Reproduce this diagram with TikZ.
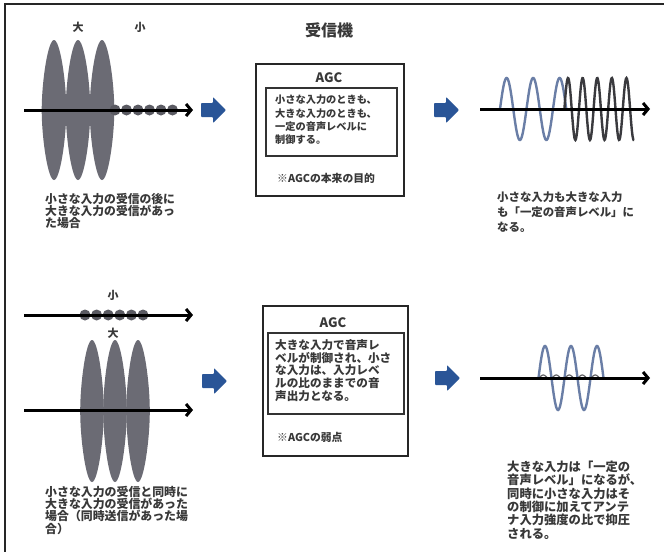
\documentclass[tikz,border=0pt]{standalone}
\usepackage{fontspec}
\setmainfont{Noto Sans CJK JP}
\usetikzlibrary{arrows.meta}
\definecolor{txt}{HTML}{383838}
\definecolor{lobe}{HTML}{6B6B74}
\definecolor{dotc}{HTML}{5A5A62}
\definecolor{navy}{HTML}{2A5597}
\definecolor{bluegray}{HTML}{6A7EA6}
\definecolor{darkwave}{HTML}{3A3A3E}
\begin{document}
\begin{tikzpicture}[x=1pt,y=-1pt,
  axisarrow/.style={line width=3pt,black,-{Straight Barb[length=5pt,width=12pt]}},
  dotshape/.style={fill=dotc},
  outerbox/.style={draw=black!85,line width=2pt,fill=none},
  innerbox/.style={draw=black!80,line width=1.5pt,fill=none},
  labeltext/.style={inner sep=0pt,text=txt},
  bodytext/.style={anchor=north west,inner sep=0pt,align=left,text=txt},
  wavebg/.style={line width=2.4pt,bluegray},
  wavedk/.style={line width=2.4pt,darkwave},
  blockarrow/.pic={\fill[navy,rounded corners=0.8pt] (-12,-7) -- (0,-7) -- (0,-13) -- (13,0) -- (0,13) -- (0,7) -- (-12,7) -- cycle;},
  lobe/.pic={\fill[lobe] (0,-1) .. controls (0.5,-1) and (1,-0.4) .. (1,0) .. controls (1,0.4) and (0.5,1) .. (0,1) .. controls (-0.5,1) and (-1,0.4) .. (-1,0) .. controls (-1,-0.4) and (-0.5,-1) .. cycle;}
]
\useasboundingbox (0,0) rectangle (664,552);
\fill[white] (0,0) rectangle (664,552);
% frame
\draw[line width=1.8pt,black!85] (664,4) -- (5,4) -- (5,552);

% ---------------- top row ----------------
\node[labeltext,font=\bfseries\fontsize{11}{11}\selectfont] (big1) at (78,27) {大};
\node[labeltext,font=\bfseries\fontsize{11}{11}\selectfont] (small1) at (140,27) {小};
\foreach \cx in {54,78,102} \pic[xscale=12.3,yscale=70] at (\cx,110) {lobe};
\foreach \dx in {115,126.5,138,149.5,161,172.5} \fill[dotshape] (\dx,110) circle [radius=5.5pt];
\coordinate (a1s) at (24,110);
\coordinate (a1e) at (193,110);
\draw[axisarrow] (a1s) -- (a1e);
\pic at (213,110) {blockarrow};
\node[bodytext,font=\bfseries\fontsize{11.8}{12.3}\selectfont] (cap1) at (45,193)
  {小さな入力の受信の後に\\大きな入力の受信があっ\\た場合};

\node[labeltext,font=\bfseries\fontsize{16}{16}\selectfont] (title) at (329,30) {受信機};
\node[outerbox,minimum width=148pt,minimum height=132pt,anchor=north west,inner sep=0pt] (box1) at (255,63) {};
\node[labeltext,font=\bfseries\fontsize{13}{13}\selectfont] (agc1) at (329,78) {AGC};
\node[innerbox,minimum width=131pt,minimum height=68pt,anchor=north west,inner sep=0pt] (in1) at (265,87) {};
\node[bodytext,font=\bfseries\fontsize{10.2}{13.3}\selectfont] (t1) at (275,94.9)
  {小さな入力のときも、\\大きな入力のときも、\\一定の音声レベルに\\制御する。};
\node[labeltext,anchor=west,font=\bfseries\fontsize{10.8}{11}\selectfont] (note1) at (277,178) {※AGCの本来の目的};

\pic at (446,110) {blockarrow};
\draw[wavebg] plot[domain=500:566.25,samples=120,smooth] (\x,{109-31*sin((\x-500)*13.585)});
\draw[wavedk] plot[domain=564.4:634,samples=140,smooth] (\x,{109-31*sin((\x-564.4)*24.658)});
\coordinate (r1s) at (480,109);
\coordinate (r1e) at (650,109);
\draw[axisarrow] (r1s) -- (r1e);
\node[bodytext,font=\bfseries\fontsize{11.4}{15}\selectfont] (cap2) at (497,191.3)
  {小さな入力も大きな入力\\も「一定の音声レベル」に\\なる。};

% ---------------- bottom row ----------------
\node[labeltext,font=\bfseries\fontsize{11}{11}\selectfont] (small2) at (113,295) {小};
\foreach \dx in {85,96.6,108.2,119.8,131.4,143} \fill[dotshape] (\dx,315) circle [radius=5.5pt];
\coordinate (a2s) at (24,315);
\coordinate (a2e) at (193,315);
\draw[axisarrow] (a2s) -- (a2e);
\node[labeltext,font=\bfseries\fontsize{11}{11}\selectfont] (big2) at (113,333) {大};
\foreach \cx in {92,115,138} \pic[xscale=11.8,yscale=71] at (\cx,411) {lobe};
\coordinate (a3s) at (24,410);
\coordinate (a3e) at (193,410);
\draw[axisarrow] (a3s) -- (a3e);
\pic at (214,381) {blockarrow};
\node[bodytext,font=\bfseries\fontsize{11.9}{12.2}\selectfont] (cap3) at (45,486)
  {小さな入力の受信と同時に\\大きな入力の受信があった\\場合（同時送信があった場\\合）};

\node[outerbox,minimum width=145pt,minimum height=150pt,anchor=north west,inner sep=0pt] (box2) at (262,305) {};
\node[labeltext,font=\bfseries\fontsize{13}{13}\selectfont] (agc2) at (333,323) {AGC};
\node[innerbox,minimum width=136pt,minimum height=81pt,anchor=north west,inner sep=0pt] (in2) at (267,332) {};
\node[bodytext,font=\bfseries\fontsize{11.6}{12.8}\selectfont] (t2) at (275,339.2)
  {大きな入力で音声レ\\ベルが制御され、小さ\\な入力は、入力レベ\\ルの比のままでの音\\声出力となる。};
\node[labeltext,anchor=west,font=\bfseries\fontsize{10.8}{11}\selectfont] (note2) at (277,437) {※AGCの弱点};

\pic at (447,378) {blockarrow};
\draw[wavebg] plot[domain=538.5:603.5,samples=120,smooth] (\x,{378-32*sin((\x-538.5)*13.846)});
\draw[line width=1.2pt,darkwave!80] plot[domain=540:602,samples=100,smooth] (\x,{377-2*sin((\x-540)*27.692)});
\coordinate (r2s) at (480,378);
\coordinate (r2e) at (650,378);
\draw[axisarrow] (r2s) -- (r2e);
\node[bodytext,font=\bfseries\fontsize{12.3}{13.3}\selectfont] (cap4) at (507,460.9)
  {大きな入力は「一定の\\音声レベル」になるが、\\同時に小さな入力はそ\\の制御に加えてアンテ\\ナ入力強度の比で抑圧\\される。};
\end{tikzpicture}
\end{document}
